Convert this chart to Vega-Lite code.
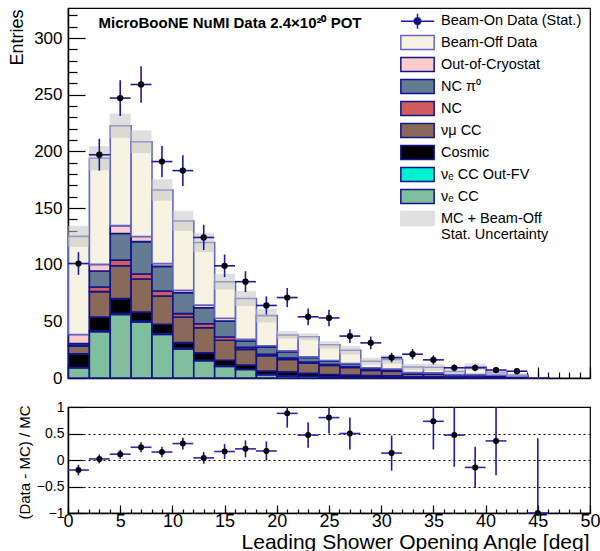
{
"$schema": "https://vega.github.io/schema/vega-lite/v6.json",
"padding": {"left": 7, "top": 7, "right": 0, "bottom": 0},
"background": "white",
"config": {
 "font": "Liberation Sans",
 "view": {"stroke": "black", "strokeWidth": 1.2},
 "axis": {"domainColor": "black", "domainWidth": 1.5, "tickColor": "black", "tickWidth": 1.2, "labelColor": "black", "titleColor": "black", "labelFont": "Liberation Sans", "titleFont": "Liberation Sans", "titleFontWeight": "normal", "grid": false, "zindex": 1}
},
"datasets": {
 "stack": [
  {"a":0,"k":1,"c":"νₑ CC","n":9},{"a":0,"k":2,"c":"νₑ CC Out-FV","n":0.3},{"a":0,"k":3,"c":"Cosmic","n":12},{"a":0,"k":4,"c":"νμ CC","n":6.8},{"a":0,"k":5,"c":"NC","n":0.8},{"a":0,"k":6,"c":"NC π⁰","n":1.6},{"a":0,"k":7,"c":"Out-of-Cryostat","n":7.9},{"a":0,"k":8,"c":"Beam-Off Data","n":86.6},
  {"a":2,"k":1,"c":"νₑ CC","n":40.9},{"a":2,"k":2,"c":"νₑ CC Out-FV","n":0.8},{"a":2,"k":3,"c":"Cosmic","n":12.1},{"a":2,"k":4,"c":"νμ CC","n":22.4},{"a":2,"k":5,"c":"NC","n":4.1},{"a":2,"k":6,"c":"NC π⁰","n":14.1},{"a":2,"k":7,"c":"Out-of-Cryostat","n":5.9},{"a":2,"k":8,"c":"Beam-Off Data","n":93.6},
  {"a":4,"k":1,"c":"νₑ CC","n":56},{"a":4,"k":2,"c":"νₑ CC Out-FV","n":1},{"a":4,"k":3,"c":"Cosmic","n":13},{"a":4,"k":4,"c":"νμ CC","n":29},{"a":4,"k":5,"c":"NC","n":5},{"a":4,"k":6,"c":"NC π⁰","n":23.5},{"a":4,"k":7,"c":"Out-of-Cryostat","n":7},{"a":4,"k":8,"c":"Beam-Off Data","n":88.1},
  {"a":6,"k":1,"c":"νₑ CC","n":49.5},{"a":6,"k":2,"c":"νₑ CC Out-FV","n":0.8},{"a":6,"k":3,"c":"Cosmic","n":8},{"a":6,"k":4,"c":"νμ CC","n":29},{"a":6,"k":5,"c":"NC","n":4.5},{"a":6,"k":6,"c":"NC π⁰","n":28.5},{"a":6,"k":7,"c":"Out-of-Cryostat","n":4.5},{"a":6,"k":8,"c":"Beam-Off Data","n":83.7},
  {"a":8,"k":1,"c":"νₑ CC","n":38.5},{"a":8,"k":2,"c":"νₑ CC Out-FV","n":0.7},{"a":8,"k":3,"c":"Cosmic","n":8.2},{"a":8,"k":4,"c":"νμ CC","n":25},{"a":8,"k":5,"c":"NC","n":4.4},{"a":8,"k":6,"c":"NC π⁰","n":21.7},{"a":8,"k":7,"c":"Out-of-Cryostat","n":2.5},{"a":8,"k":8,"c":"Beam-Off Data","n":64.9},
  {"a":10,"k":1,"c":"νₑ CC","n":25.7},{"a":10,"k":2,"c":"νₑ CC Out-FV","n":0.5},{"a":10,"k":3,"c":"Cosmic","n":5},{"a":10,"k":4,"c":"νμ CC","n":22.6},{"a":10,"k":5,"c":"NC","n":3},{"a":10,"k":6,"c":"NC π⁰","n":18.5},{"a":10,"k":7,"c":"Out-of-Cryostat","n":2.1},{"a":10,"k":8,"c":"Beam-Off Data","n":61.2},
  {"a":12,"k":1,"c":"νₑ CC","n":15.2},{"a":12,"k":2,"c":"νₑ CC Out-FV","n":0.4},{"a":12,"k":3,"c":"Cosmic","n":6.7},{"a":12,"k":4,"c":"νμ CC","n":22.1},{"a":12,"k":5,"c":"NC","n":3.5},{"a":12,"k":6,"c":"NC π⁰","n":14.1},{"a":12,"k":7,"c":"Out-of-Cryostat","n":2.4},{"a":12,"k":8,"c":"Beam-Off Data","n":55.2},
  {"a":14,"k":1,"c":"νₑ CC","n":10.3},{"a":14,"k":2,"c":"νₑ CC Out-FV","n":0.3},{"a":14,"k":3,"c":"Cosmic","n":5},{"a":14,"k":4,"c":"νμ CC","n":17.7},{"a":14,"k":5,"c":"NC","n":2.9},{"a":14,"k":6,"c":"NC π⁰","n":14.1},{"a":14,"k":7,"c":"Out-of-Cryostat","n":2.4},{"a":14,"k":8,"c":"Beam-Off Data","n":32.3},
  {"a":16,"k":1,"c":"νₑ CC","n":7.5},{"a":16,"k":2,"c":"νₑ CC Out-FV","n":0.2},{"a":16,"k":3,"c":"Cosmic","n":3.8},{"a":16,"k":4,"c":"νμ CC","n":13.8},{"a":16,"k":5,"c":"NC","n":1.7},{"a":16,"k":6,"c":"NC π⁰","n":5.7},{"a":16,"k":7,"c":"Out-of-Cryostat","n":1.5},{"a":16,"k":8,"c":"Beam-Off Data","n":36},
  {"a":18,"k":1,"c":"νₑ CC","n":3},{"a":18,"k":2,"c":"νₑ CC Out-FV","n":0.2},{"a":18,"k":3,"c":"Cosmic","n":3},{"a":18,"k":4,"c":"νμ CC","n":13.5},{"a":18,"k":5,"c":"NC","n":1.3},{"a":18,"k":6,"c":"NC π⁰","n":6.5},{"a":18,"k":7,"c":"Out-of-Cryostat","n":1},{"a":18,"k":8,"c":"Beam-Off Data","n":26.5},
  {"a":20,"k":1,"c":"νₑ CC","n":1.8},{"a":20,"k":2,"c":"νₑ CC Out-FV","n":0.1},{"a":20,"k":3,"c":"Cosmic","n":3.5},{"a":20,"k":4,"c":"νμ CC","n":11},{"a":20,"k":5,"c":"NC","n":1.2},{"a":20,"k":6,"c":"NC π⁰","n":5.5},{"a":20,"k":7,"c":"Out-of-Cryostat","n":0.8},{"a":20,"k":8,"c":"Beam-Off Data","n":14.1},
  {"a":22,"k":1,"c":"νₑ CC","n":1.5},{"a":22,"k":2,"c":"νₑ CC Out-FV","n":0.1},{"a":22,"k":3,"c":"Cosmic","n":2.5},{"a":22,"k":4,"c":"νμ CC","n":9},{"a":22,"k":5,"c":"NC","n":1},{"a":22,"k":6,"c":"NC π⁰","n":4},{"a":22,"k":7,"c":"Out-of-Cryostat","n":0.5},{"a":22,"k":8,"c":"Beam-Off Data","n":17.8},
  {"a":24,"k":1,"c":"νₑ CC","n":1},{"a":24,"k":2,"c":"νₑ CC Out-FV","n":0.1},{"a":24,"k":3,"c":"Cosmic","n":2},{"a":24,"k":4,"c":"νμ CC","n":8},{"a":24,"k":5,"c":"NC","n":0.8},{"a":24,"k":6,"c":"NC π⁰","n":3.2},{"a":24,"k":7,"c":"Out-of-Cryostat","n":0.4},{"a":24,"k":8,"c":"Beam-Off Data","n":13.8},
  {"a":26,"k":1,"c":"νₑ CC","n":0.8},{"a":26,"k":2,"c":"νₑ CC Out-FV","n":0.1},{"a":26,"k":3,"c":"Cosmic","n":1.8},{"a":26,"k":4,"c":"νμ CC","n":6.5},{"a":26,"k":5,"c":"NC","n":0.6},{"a":26,"k":6,"c":"NC π⁰","n":2.6},{"a":26,"k":7,"c":"Out-of-Cryostat","n":0.3},{"a":26,"k":8,"c":"Beam-Off Data","n":11.8},
  {"a":28,"k":1,"c":"νₑ CC","n":0.6},{"a":28,"k":2,"c":"νₑ CC Out-FV","n":0.1},{"a":28,"k":3,"c":"Cosmic","n":1.5},{"a":28,"k":4,"c":"νμ CC","n":4.5},{"a":28,"k":5,"c":"NC","n":0.5},{"a":28,"k":6,"c":"NC π⁰","n":1.7},{"a":28,"k":7,"c":"Out-of-Cryostat","n":0.2},{"a":28,"k":8,"c":"Beam-Off Data","n":5.7},
  {"a":30,"k":1,"c":"νₑ CC","n":0.5},{"a":30,"k":2,"c":"νₑ CC Out-FV","n":0.1},{"a":30,"k":3,"c":"Cosmic","n":1.3},{"a":30,"k":4,"c":"νμ CC","n":4},{"a":30,"k":5,"c":"NC","n":0.4},{"a":30,"k":6,"c":"NC π⁰","n":1.5},{"a":30,"k":7,"c":"Out-of-Cryostat","n":0.2},{"a":30,"k":8,"c":"Beam-Off Data","n":8.4},
  {"a":32,"k":1,"c":"νₑ CC","n":0.3},{"a":32,"k":3,"c":"Cosmic","n":0.8},{"a":32,"k":4,"c":"νμ CC","n":2.3},{"a":32,"k":5,"c":"NC","n":0.3},{"a":32,"k":6,"c":"NC π⁰","n":0.9},{"a":32,"k":7,"c":"Out-of-Cryostat","n":0.1},{"a":32,"k":8,"c":"Beam-Off Data","n":5},
  {"a":34,"k":1,"c":"νₑ CC","n":0.3},{"a":34,"k":3,"c":"Cosmic","n":0.8},{"a":34,"k":4,"c":"νμ CC","n":2.2},{"a":34,"k":5,"c":"NC","n":0.2},{"a":34,"k":6,"c":"NC π⁰","n":0.9},{"a":34,"k":7,"c":"Out-of-Cryostat","n":0.1},{"a":34,"k":8,"c":"Beam-Off Data","n":5},
  {"a":36,"k":1,"c":"νₑ CC","n":0.2},{"a":36,"k":3,"c":"Cosmic","n":0.5},{"a":36,"k":4,"c":"νμ CC","n":1.5},{"a":36,"k":5,"c":"NC","n":0.2},{"a":36,"k":6,"c":"NC π⁰","n":0.5},{"a":36,"k":7,"c":"Out-of-Cryostat","n":0.1},{"a":36,"k":8,"c":"Beam-Off Data","n":2.8},
  {"a":38,"k":1,"c":"νₑ CC","n":0.2},{"a":38,"k":3,"c":"Cosmic","n":0.5},{"a":38,"k":4,"c":"νμ CC","n":1.5},{"a":38,"k":5,"c":"NC","n":0.2},{"a":38,"k":6,"c":"NC π⁰","n":0.5},{"a":38,"k":7,"c":"Out-of-Cryostat","n":0.1},{"a":38,"k":8,"c":"Beam-Off Data","n":6.9},
  {"a":40,"k":1,"c":"νₑ CC","n":0.2},{"a":40,"k":3,"c":"Cosmic","n":0.4},{"a":40,"k":4,"c":"νμ CC","n":1.2},{"a":40,"k":5,"c":"NC","n":0.1},{"a":40,"k":6,"c":"NC π⁰","n":0.5},{"a":40,"k":7,"c":"Out-of-Cryostat","n":0.1},{"a":40,"k":8,"c":"Beam-Off Data","n":2.3},
  {"a":42,"k":1,"c":"νₑ CC","n":0.1},{"a":42,"k":3,"c":"Cosmic","n":0.4},{"a":42,"k":4,"c":"νμ CC","n":1},{"a":42,"k":5,"c":"NC","n":0.1},{"a":42,"k":6,"c":"NC π⁰","n":0.2},{"a":42,"k":8,"c":"Beam-Off Data","n":0.8},
  {"a":44,"k":4,"c":"νμ CC","n":0.2}
 ],
 "bins": [
  {"a":0,"b":2,"u0":115.7,"u1":134.3},{"a":2,"b":4,"u0":183.3,"u1":204.5},{"a":4,"b":6,"u0":212,"u1":233.2},{"a":6,"b":8,"u0":198.5,"u1":218.5},
  {"a":8,"b":10,"u0":156.4,"u1":175.4},{"a":10,"b":12,"u0":129.8,"u1":147.4},{"a":12,"b":14,"u0":111.1,"u1":128.1},{"a":14,"b":16,"u0":78,"u1":92},
  {"a":16,"b":18,"u0":63.6,"u1":76.8},{"a":18,"b":20,"u0":49.1,"u1":60.9},{"a":20,"b":22,"u0":34.7,"u1":41.3},{"a":22,"b":24,"u0":33.4,"u1":39.4},
  {"a":24,"b":26,"u0":26,"u1":32.6},{"a":26,"b":28,"u0":20.7,"u1":28.3},{"a":28,"b":30,"u0":11.8,"u1":17.8},{"a":30,"b":32,"u0":12.7,"u1":20.1},
  {"a":32,"b":34,"u0":7,"u1":12.4},{"a":34,"b":36,"u0":6.5,"u1":12.5},{"a":36,"b":38,"u0":3.8,"u1":7.8},{"a":38,"b":40,"u0":6.9,"u1":12.9},
  {"a":40,"b":42,"u0":3,"u1":6.6},{"a":42,"b":44,"u0":1.1,"u1":4.1},{"a":44,"b":46,"u0":0,"u1":0.4}
 ],
 "pts": [
  {"a":0,"b":2,"c":1,"d":101,"de":10.05},{"a":2,"b":4,"c":3,"d":197,"de":14.04},{"a":4,"b":6,"c":5,"d":247,"de":15.72},{"a":6,"b":8,"c":7,"d":259,"de":16.09},
  {"a":8,"b":10,"c":9,"d":191,"de":13.82},{"a":10,"b":12,"c":11,"d":183,"de":13.53},{"a":12,"b":14,"c":13,"d":124,"de":11.14},{"a":14,"b":16,"c":15,"d":99,"de":9.95},
  {"a":16,"b":18,"c":17,"d":85,"de":9.22},{"a":18,"b":20,"c":19,"d":64,"de":8},{"a":20,"b":22,"c":21,"d":71,"de":8.43},{"a":22,"b":24,"c":23,"d":54,"de":7.35},
  {"a":24,"b":26,"c":25,"d":53,"de":7.28},{"a":26,"b":28,"c":27,"d":37,"de":6.08},{"a":28,"b":30,"c":29,"d":31,"de":5.57},{"a":30,"b":32,"c":31,"d":18,"de":4.24},
  {"a":32,"b":34,"c":33,"d":21,"de":4.58},{"a":34,"b":36,"c":35,"d":16,"de":4},{"a":36,"b":38,"c":37,"d":9,"de":3},{"a":38,"b":40,"c":39,"d":9,"de":3},
  {"a":40,"b":42,"c":41,"d":7,"de":2.65},{"a":42,"b":44,"c":43,"d":6,"de":2.45}
 ],
 "rat": [
  {"a":0,"b":2,"c":1,"r":-0.19,"re":0.1},{"a":2,"b":4,"c":3,"r":0.02,"re":0.085},{"a":4,"b":6,"c":5,"r":0.11,"re":0.085},{"a":6,"b":8,"c":7,"r":0.24,"re":0.094},
  {"a":8,"b":10,"c":9,"r":0.15,"re":0.1},{"a":10,"b":12,"c":11,"r":0.31,"re":0.11},{"a":12,"b":14,"c":13,"r":0.04,"re":0.11},{"a":14,"b":16,"c":15,"r":0.16,"re":0.14},
  {"a":16,"b":18,"c":17,"r":0.21,"re":0.16},{"a":18,"b":20,"c":19,"r":0.17,"re":0.18},{"a":20,"b":22,"c":21,"r":0.88,"re":0.27},{"a":22,"b":24,"c":23,"r":0.47,"re":0.24},
  {"a":24,"b":26,"c":25,"r":0.8,"re":0.3},{"a":26,"b":28,"c":27,"r":0.5,"re":0.3},{"a":30,"b":32,"c":31,"r":0.13,"re":0.33},{"a":34,"b":36,"c":35,"r":0.73,"re":0.53},
  {"a":36,"b":38,"c":37,"r":0.47,"re":0.6},{"a":38,"b":40,"c":39,"r":-0.14,"re":0.39},{"a":40,"b":42,"c":41,"r":0.36,"re":0.65},{"a":44,"b":46,"c":45,"r":-1,"re":1.41}
 ]
},
"spacing": 29,
"bounds": "flush",
"resolve": {"scale": {"fill": "independent", "stroke": "independent", "shape": "independent"}},
"vconcat": [
 {
  "width": 522, "height": 370,
  "resolve": {"axis": {"x": "independent", "y": "independent"}},
  "layer": [
   {
    "data": {"name": "stack"},
    "mark": {"type": "bar", "binSpacing": 0, "strokeWidth": 1.6},
    "encoding": {
     "x": {"field": "a", "type": "quantitative", "bin": {"binned": true, "step": 2}, "scale": {"domain": [0, 50], "nice": false, "zero": false},
           "axis": {"values": [0,5,10,15,20,25,30,35,40,45,50], "labels": false, "tickSize": -11, "title": null}},
     "y": {"field": "n", "type": "quantitative", "stack": "zero", "scale": {"domain": [0, 326.5], "nice": false},
           "axis": {"values": [0,50,100,150,200,250,300], "tickSize": -17, "labelPadding": 23, "labelFontSize": 17, "title": "Entries", "titleFontSize": 18, "titleAlign": "right", "titleAngle": -90, "titleX": -51, "titleY": 1, "titleBaseline": "middle"}},
     "fill": {"field": "c", "type": "nominal",
       "scale": {"domain": ["Beam-Off Data", "Out-of-Cryostat", "NC π⁰", "NC", "νμ CC", "Cosmic", "νₑ CC Out-FV", "νₑ CC", "MC + Beam-Off Stat. Uncertainty"],
                 "range": ["#f6f3e2", "#fbcccc", "#637b93", "#d05c5c", "#8b6959", "black", "#00f0d0", "#7fbf9e", "#e0e0e0"]},
       "legend": {"orient": "none", "legendX": 332, "legendY": 23.9, "title": null, "padding": 0,
         "symbolType": "M-1,-0.42H1V0.42H-1Z", "symbolSize": 1111, "symbolStrokeWidth": 1.5, "symbolOpacity": 1,
         "labelFontSize": 14.5, "labelFont": "Liberation Sans", "labelColor": "black", "labelOffset": 6, "labelLimit": 400,
         "clipHeight": 21.4, "rowPadding": 0,
         "labelExpr": "datum.label === 'MC + Beam-Off Stat. Uncertainty' ? ['MC + Beam-Off', 'Stat. Uncertainty'] : datum.label"}},
     "stroke": {"field": "c", "type": "nominal",
       "scale": {"domain": ["Beam-Off Data", "Out-of-Cryostat", "NC π⁰", "NC", "νμ CC", "Cosmic", "νₑ CC Out-FV", "νₑ CC", "MC + Beam-Off Stat. Uncertainty"],
                 "range": ["#6464c8", "#13138a", "#13138a", "#13138a", "#13138a", "#13138a", "#13138a", "#13138a", "#e0e0e0"]},
       "legend": {"orient": "none", "legendX": 332, "legendY": 23.9, "title": null, "padding": 0,
         "symbolType": "M-1,-0.42H1V0.42H-1Z", "symbolSize": 1111, "symbolStrokeWidth": 1.5, "symbolOpacity": 1,
         "labelFontSize": 14.5, "labelFont": "Liberation Sans", "labelColor": "black", "labelOffset": 6, "labelLimit": 400,
         "clipHeight": 21.4, "rowPadding": 0,
         "labelExpr": "datum.label === 'MC + Beam-Off Stat. Uncertainty' ? ['MC + Beam-Off', 'Stat. Uncertainty'] : datum.label"}},
     "order": {"field": "k", "type": "quantitative"}
    }
   },
   {
    "data": {"name": "bins"},
    "mark": {"type": "rect", "color": "#c4c4c4", "opacity": 0.55},
    "encoding": {
     "x": {"field": "a", "type": "quantitative", "axis": null}, "x2": {"field": "b"},
     "y": {"field": "u0", "type": "quantitative", "axis": null}, "y2": {"field": "u1"}
    }
   },
   {
    "data": {"name": "pts"},
    "mark": {"type": "errorbar", "color": "#1a1aa6", "thickness": 1.6},
    "encoding": {
     "x": {"field": "c", "type": "quantitative", "axis": null},
     "y": {"field": "d", "type": "quantitative", "axis": null},
     "yError": {"field": "de"}
    }
   },
   {
    "data": {"name": "pts"},
    "mark": {"type": "rule", "color": "#1a1aa6", "strokeWidth": 1.6},
    "encoding": {
     "x": {"field": "a", "type": "quantitative", "axis": {"orient": "bottom", "values": [0,1,2,3,4,5,6,7,8,9,10,11,12,13,14,15,16,17,18,19,20,21,22,23,24,25,26,27,28,29,30,31,32,33,34,35,36,37,38,39,40,41,42,43,44,45,46,47,48,49,50], "labels": false, "tickSize": -6, "domain": false, "title": null}},
     "x2": {"field": "b"},
     "y": {"field": "d", "type": "quantitative", "axis": {"orient": "left", "values": [10,20,30,40,60,70,80,90,110,120,130,140,160,170,180,190,210,220,230,240,260,270,280,290,310,320], "labels": false, "tickSize": -9, "domain": false, "title": null}}
    }
   },
   {
    "data": {"name": "pts"},
    "mark": {"type": "point", "filled": true, "size": 0, "color": "black", "stroke": "#1a1aa6", "strokeWidth": 1.5, "opacity": 1},
    "encoding": {
     "x": {"field": "c", "type": "quantitative", "axis": null},
     "y": {"field": "d", "type": "quantitative", "axis": null},
     "shape": {"datum": "Beam-On Data (Stat.)", "type": "nominal",
       "scale": {"domain": ["Beam-On Data (Stat.)"], "range": ["M-1,0H1M0,-0.45V0.45M0.2,0A0.2,0.2,0,1,1,-0.2,0A0.2,0.2,0,1,1,0.2,0Z"]},
       "legend": {"orient": "none", "legendX": 332, "legendY": 2.5, "title": null, "padding": 0,
         "symbolSize": 1111, "symbolStrokeWidth": 1.5, "symbolOpacity": 1,
         "labelFontSize": 14.5, "labelFont": "Liberation Sans", "labelColor": "black", "labelOffset": 6, "labelLimit": 400,
         "clipHeight": 21.4, "rowPadding": 0}}
    }
   },
   {
    "data": {"name": "pts"},
    "mark": {"type": "point", "filled": true, "shape": "circle", "size": 40, "color": "black", "opacity": 1},
    "encoding": {
     "x": {"field": "c", "type": "quantitative", "axis": {"orient": "top", "labels": false, "ticks": false, "domain": false,
           "title": "MicroBooNE NuMI Data 2.4×10²⁰ POT", "titleFontWeight": "bold", "titleFontSize": 15, "titleAlign": "left", "titleAngle": 0, "titleX": 30, "titleY": 19, "titleBaseline": "alphabetic"}},
     "y": {"field": "d", "type": "quantitative", "axis": null}
    }
   }
  ]
 },
 {
  "width": 522, "height": 106,
  "data": {"name": "rat"},
  "resolve": {"axis": {"x": "independent", "y": "independent"}},
  "layer": [
   {
    "mark": {"type": "errorbar", "color": "#1a1aa6", "thickness": 1.6},
    "encoding": {
     "x": {"field": "c", "type": "quantitative", "scale": {"domain": [0, 50], "nice": false, "zero": false},
           "axis": {"values": [0,5,10,15,20,25,30,35,40,45,50], "tickSize": -8, "labelPadding": 7.5, "labelFontSize": 18, "labelFlush": false,
                    "title": "Leading Shower Opening Angle [deg]", "titleFontSize": 21, "titleAlign": "right", "titleX": 521, "titleY": 35, "titleBaseline": "alphabetic"}},
     "y": {"field": "r", "type": "quantitative", "scale": {"domain": [-1, 1], "nice": false, "zero": false, "clamp": true},
           "axis": {"values": [-1,-0.5,0,0.5,1], "format": "~g", "tickSize": -15, "labelPadding": 19, "labelFontSize": 14, "grid": true, "gridDash": [2,3], "gridColor": "black", "gridOpacity": 1,
                    "title": "(Data - MC) / MC", "titleFontSize": 15, "titleAlign": "center", "titleAngle": -90, "titleX": -44, "titleY": 55, "titleBaseline": "middle"}},
     "yError": {"field": "re"}
    }
   },
   {
    "mark": {"type": "rule", "color": "#2a2ab8", "strokeWidth": 1.6},
    "encoding": {
     "x": {"field": "a", "type": "quantitative", "axis": {"orient": "bottom", "values": [0,1,2,3,4,5,6,7,8,9,10,11,12,13,14,15,16,17,18,19,20,21,22,23,24,25,26,27,28,29,30,31,32,33,34,35,36,37,38,39,40,41,42,43,44,45,46,47,48,49,50], "labels": false, "tickSize": -4, "domain": false, "title": null}},
     "x2": {"field": "b"},
     "y": {"field": "r", "type": "quantitative", "axis": null}
    }
   },
   {
    "mark": {"type": "point", "filled": true, "shape": "circle", "size": 36, "color": "black", "opacity": 1},
    "encoding": {
     "x": {"field": "c", "type": "quantitative", "axis": null},
     "y": {"field": "r", "type": "quantitative", "axis": null}
    }
   }
  ]
 }
]
}
